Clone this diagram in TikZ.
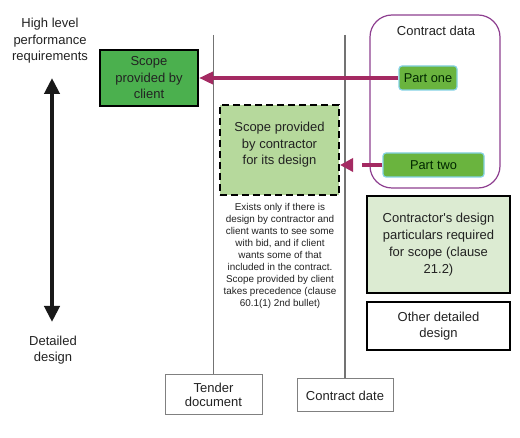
\documentclass[tikz,border=0pt]{standalone}
\usepackage{fontspec}
\setmainfont{Liberation Sans}
\usetikzlibrary{arrows.meta}
\definecolor{dkgreen}{HTML}{4BB04E}
\definecolor{ptgreen}{HTML}{6AB43E}
\definecolor{ptborder}{HTML}{84D2E4}
\definecolor{ltgreen}{HTML}{B6D99C}
\definecolor{pale}{HTML}{DCEBD2}
\definecolor{crim}{HTML}{A42A62}
\definecolor{purp}{HTML}{8E3F90}
\definecolor{txt}{HTML}{222222}
\tikzset{
  box/.style={draw=black, line width=2pt, align=center, inner sep=2pt, text=txt},
  partbox/.style={draw=ptborder, line width=1.2pt, fill=ptgreen, rounded corners=3pt, text=black!85!green, font=\fontsize{12.8}{15}\selectfont},
  datebox/.style={draw=black!50, line width=1pt, align=center, fill=white, font=\fontsize{13}{16}\selectfont, text=txt},
  tline/.style={draw=black!55, line width=1.2pt},
  conn/.style={draw=crim, line width=4pt},
  big/.style={font=\fontsize{13}{16.5}\selectfont},
}
\begin{document}
\begin{tikzpicture}[x=1pt,y=-1pt]
\useasboundingbox (0,0) rectangle (520,438);
\fill[white] (0,0) rectangle (520,438);
% timeline boxes
\node[datebox, minimum width=97pt, minimum height=40pt] (tender) at (213.5,395) {Tender\\[-2pt]document};
\node[datebox, minimum width=96pt, minimum height=33pt] (cdate) at (345,395.5) {Contract date};
\coordinate (t1) at (213.5,35);
\coordinate (t2) at (345,35);
\draw[tline] (t1) -- (tender.north);
\draw[tline] (t2) -- (cdate.north);
% axis
\node[big, align=center, text=txt] (hl) at (50,41) {High level\\performance\\requirements};
\node[big, align=center, text=txt] (dd) at (53,350) {Detailed\\design};
\coordinate (atop) at (52,78);
\coordinate (abot) at (52,322);
\draw[line width=4pt, black!90, {Triangle[width=15pt,length=16pt]}-{Triangle[width=15pt,length=16pt]}] (atop) -- (abot);
% contract data
\node[draw=purp, line width=1.2pt, rounded corners=22pt, minimum width=130pt, minimum height=173pt] (cdata) at (435,101.5) {};
\node[big, text=txt] (cdlabel) at (436,31) {Contract data};
\node[partbox, minimum width=58pt, minimum height=24pt] (p1) at (428,78) {Part one};
\node[partbox, minimum width=101pt, minimum height=24pt] (p2) at (433.5,165) {Part two};
% scope boxes
\node[box, big, fill=dkgreen, minimum width=98pt, minimum height=56pt] (client) at (149,78) {Scope\\provided by\\client};
\node[draw=black, line width=2pt, dash pattern=on 7pt off 4pt, fill=ltgreen, minimum width=119pt, minimum height=90pt] (dash) at (279.5,150) {};
\node[big, align=center, text=txt] (dashtxt) at (279.5,145) {Scope provided\\by contractor\\for its design};
\node[align=center, text=txt, font=\fontsize{9.9}{11.9}\selectfont] (note) at (280,256) {Exists only if there is\\design by contractor and\\client wants to see some\\with bid, and if client\\wants some of that\\included in the contract.\\Scope provided by client\\takes precedence (clause\\60.1(1) 2nd bullet)};
\node[box, font=\fontsize{13}{17}\selectfont, fill=pale, minimum width=143pt, minimum height=97pt] (cdp) at (438.5,244.5) {Contractor\textquotesingle s design\\particulars required\\for scope (clause\\21.2)};
\node[box, big, fill=white, minimum width=143pt, minimum height=48pt] (odd) at (438.5,326) {Other detailed\\design};
% connectors
\draw[conn, -{Triangle[width=12pt,length=14pt]}] (p1.west) -- (client.east);
\draw[conn, dash pattern=on 20pt off 30pt, -{Triangle[width=13pt,length=13pt]}] (p2.west) -- (dash.east |- p2.west);
\end{tikzpicture}
\end{document}
